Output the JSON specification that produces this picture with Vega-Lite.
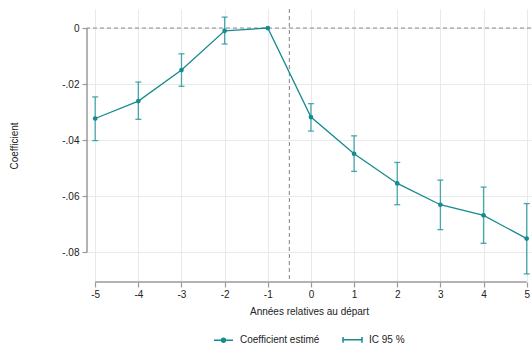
{
  "$schema": "https://vega.github.io/schema/vega-lite/v6.json",
  "width": 444,
  "height": 273,
  "autosize": {"type": "none"},
  "padding": {"left": 87, "top": 9, "right": 1, "bottom": 63},
  "background": "white",
  "config": {
    "view": {"stroke": null},
    "font": "Liberation Sans",
    "axis": {"labelFont": "Liberation Sans", "titleFont": "Liberation Sans", "labelFontSize": 10, "titleFontSize": 10, "titleFontWeight": "normal", "labelColor": "#222", "titleColor": "#222", "grid": true, "gridColor": "#e9e9e9", "gridWidth": 1, "tickColor": "#9a9a9a", "tickSize": 5, "tickWidth": 1.2, "domain": false}
  },
  "datasets": {
    "est": [
      {"t": -5, "coef": -0.0323, "lo": -0.0402, "hi": -0.0246},
      {"t": -4, "coef": -0.0261, "lo": -0.0326, "hi": -0.0193},
      {"t": -3, "coef": -0.0150, "lo": -0.0208, "hi": -0.0092},
      {"t": -2, "coef": -0.0010, "lo": -0.0057, "hi": 0.0039},
      {"t": -1, "coef": 0.0, "lo": null, "hi": null},
      {"t": 0, "coef": -0.0318, "lo": -0.0368, "hi": -0.0270},
      {"t": 1, "coef": -0.0449, "lo": -0.0512, "hi": -0.0385},
      {"t": 2, "coef": -0.0555, "lo": -0.0631, "hi": -0.0480},
      {"t": 3, "coef": -0.0631, "lo": -0.0720, "hi": -0.0543},
      {"t": 4, "coef": -0.0669, "lo": -0.0769, "hi": -0.0568},
      {"t": 5, "coef": -0.0752, "lo": -0.0878, "hi": -0.0627}
    ],
    "series": [
      {"series": "Coefficient estimé"},
      {"series": "IC 95 %"}
    ],
    "one": [{}]
  },
  "layer": [
    {
      "data": {"name": "one"},
      "mark": {"type": "rule", "color": "#8c8c8c", "strokeDash": [4, 3], "strokeWidth": 1.1},
      "encoding": {"y": {"datum": 0}}
    },
    {
      "data": {"name": "one"},
      "mark": {"type": "rule", "color": "#8c8c8c", "strokeDash": [4, 3], "strokeWidth": 1.1},
      "encoding": {"x": {"datum": -0.5}}
    },
    {
      "data": {"name": "one"},
      "mark": {"type": "rule", "color": "#9a9a9a", "strokeWidth": 1.5},
      "encoding": {"x": {"datum": -5.19}, "y": {"datum": 0}, "y2": {"datum": -0.08}}
    },
    {
      "data": {"name": "one"},
      "mark": {"type": "rule", "color": "#9a9a9a", "strokeWidth": 1.5},
      "encoding": {"y": {"datum": -0.0907}, "x": {"datum": -5}, "x2": {"datum": 5}}
    },
    {
      "data": {"name": "est"},
      "transform": [{"filter": "datum.lo != null"}],
      "mark": {"type": "rule", "color": "#2a9a9f", "strokeWidth": 1.3, "opacity": 0.85},
      "encoding": {"x": {"field": "t", "type": "quantitative"}, "y": {"field": "lo", "type": "quantitative"}, "y2": {"field": "hi"}}
    },
    {
      "data": {"name": "est"},
      "transform": [{"filter": "datum.lo != null"}],
      "mark": {"type": "tick", "orient": "horizontal", "color": "#2a9a9f", "size": 6, "thickness": 1.3, "opacity": 0.85},
      "encoding": {"x": {"field": "t", "type": "quantitative"}, "y": {"field": "lo", "type": "quantitative"}}
    },
    {
      "data": {"name": "est"},
      "transform": [{"filter": "datum.lo != null"}],
      "mark": {"type": "tick", "orient": "horizontal", "color": "#2a9a9f", "size": 6, "thickness": 1.3, "opacity": 0.85},
      "encoding": {"x": {"field": "t", "type": "quantitative"}, "y": {"field": "hi", "type": "quantitative"}}
    },
    {
      "data": {"name": "est"},
      "mark": {"type": "line", "color": "#168a90", "strokeWidth": 1.3},
      "encoding": {
        "x": {"field": "t", "type": "quantitative", "scale": {"domain": [-5.19, 5.1], "nice": false, "zero": false},
          "axis": {"title": "Années relatives au départ", "values": [-5, -4, -3, -2, -1, 0, 1, 2, 3, 4, 5], "labelExpr": "datum.value < 0 ? '-' + abs(datum.value) : '' + datum.value", "labelPadding": 2, "titlePadding": 7, "offset": 0}},
        "y": {"field": "coef", "type": "quantitative", "scale": {"domain": [-0.0907, 0.0068], "nice": false, "zero": false},
          "axis": {"title": "Coefficient", "values": [0, -0.02, -0.04, -0.06, -0.08], "labelExpr": "datum.value == 0 ? '0' : '-' + replace(format(abs(datum.value), '.2f'), '0.', '.')", "labelPadding": 3, "titlePadding": 42}}
      }
    },
    {
      "data": {"name": "est"},
      "mark": {"type": "point", "filled": true, "color": "#168a90", "size": 22, "opacity": 1},
      "encoding": {"x": {"field": "t", "type": "quantitative"}, "y": {"field": "coef", "type": "quantitative"}}
    },
    {
      "data": {"name": "series"},
      "mark": {"type": "point", "filled": true, "color": "#168a90", "stroke": "#168a90", "strokeWidth": 1.2, "opacity": 0, "size": 361},
      "encoding": {
        "shape": {"field": "series", "type": "nominal",
          "scale": {"domain": ["Coefficient estimé", "IC 95 %"], "range": ["M-1,0H1M-0.2,0A0.2,0.2,0,1,1,0.2,0A0.2,0.2,0,1,1,-0.2,0Z", "M-1,0H1M-1,-0.3V0.3M1,-0.3V0.3"]},
          "legend": {"title": null, "orient": "none", "direction": "horizontal", "legendX": 126, "legendY": 320, "symbolSize": 361, "labelFont": "Liberation Sans", "labelFontSize": 10, "labelColor": "#222", "labelOffset": 6, "columnPadding": 20,
            "encode": {"symbols": {"update": {"fill": {"value": "#168a90"}, "stroke": {"value": "#168a90"}, "strokeWidth": {"value": 1.2}, "opacity": {"value": 1}, "fillOpacity": {"value": 1}, "strokeOpacity": {"value": 1}}}}}
        }
      }
    }
  ]
}
